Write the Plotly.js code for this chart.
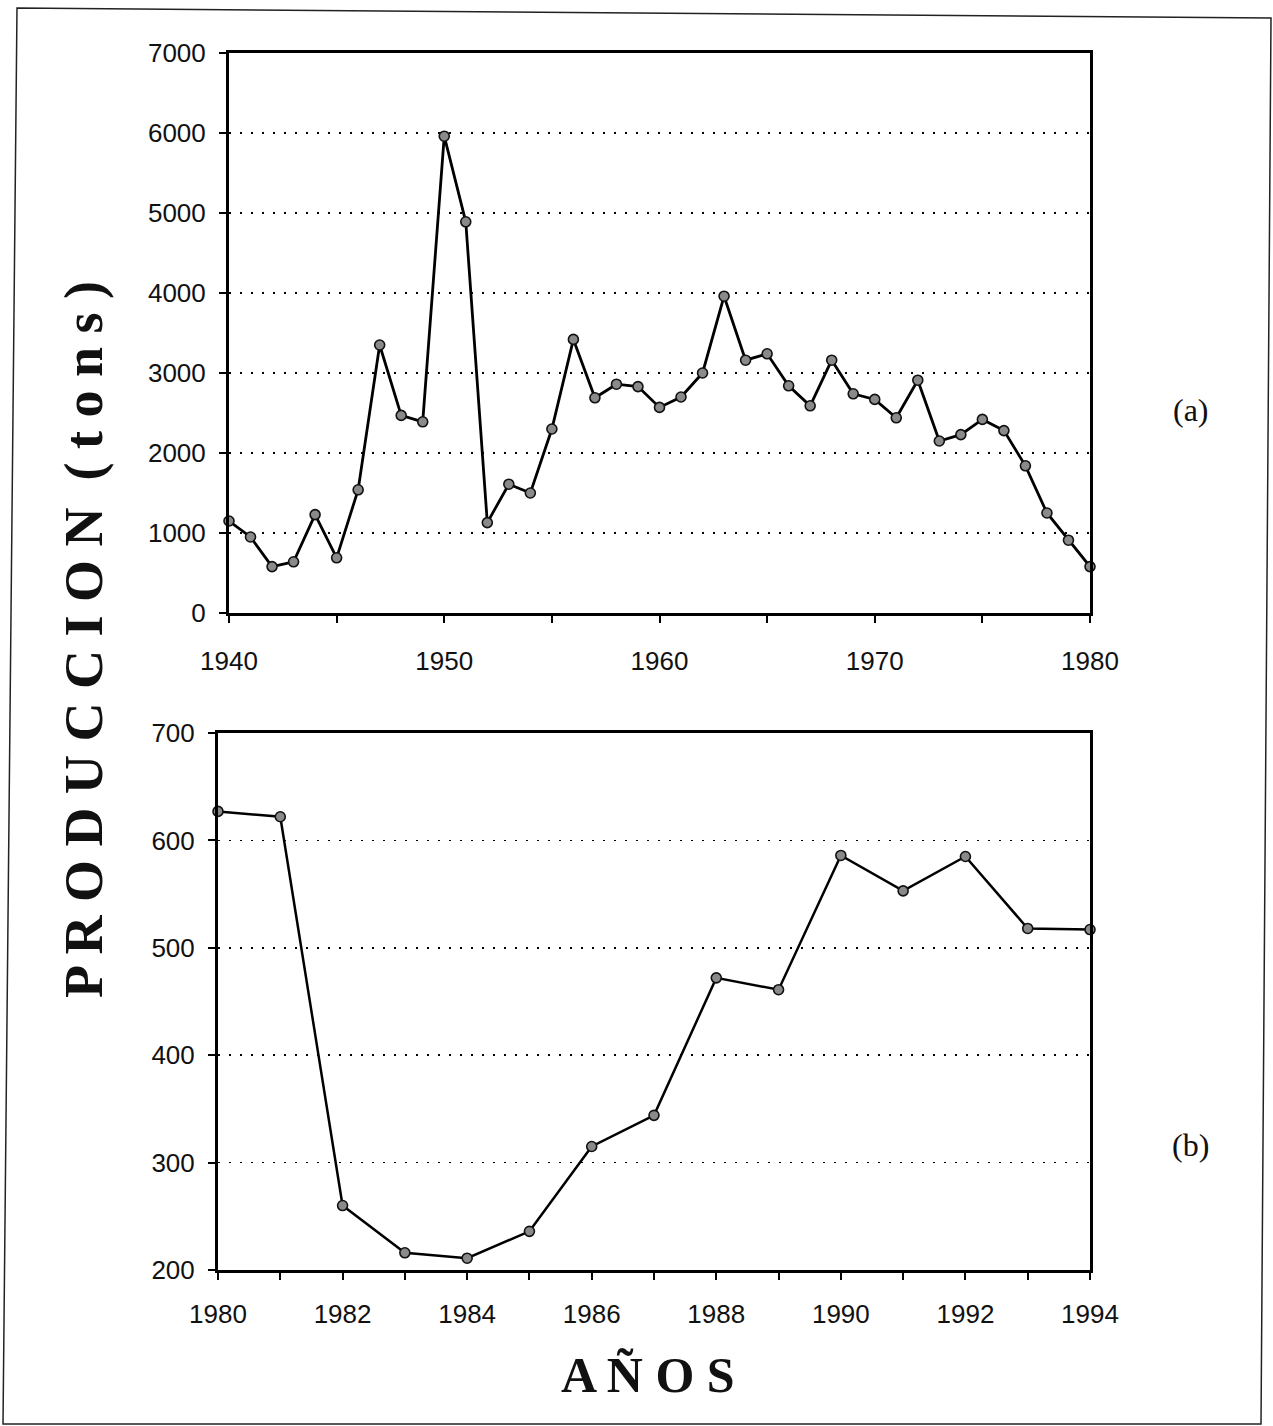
<!DOCTYPE html>
<html>
<head>
<meta charset="utf-8">
<script src="https://cdn.plot.ly/plotly-3.0.1.min.js"></script>
<style>
  html, body { margin: 0; padding: 0; background: #ffffff; }
  #chart { width: 1273px; height: 1426px; }
</style>
</head>
<body>
<div id="chart"></div>
<script>
// ---- Data ----
const yearsA = [1940, 1941, 1942, 1943, 1944, 1945, 1946, 1947, 1948, 1949,
                1950, 1951, 1952, 1953, 1954, 1955, 1956, 1957, 1958, 1959,
                1960, 1961, 1962, 1963, 1964, 1965, 1966, 1967, 1968, 1969,
                1970, 1971, 1972, 1973, 1974, 1975, 1976, 1977, 1978, 1979, 1980];
const prodA  = [1150, 950, 580, 640, 1230, 690, 1540, 3350, 2470, 2390,
                5960, 4890, 1130, 1610, 1500, 2300, 3420, 2690, 2860, 2830,
                2570, 2700, 3000, 3960, 3160, 3240, 2840, 2590, 3160, 2740,
                2670, 2440, 2910, 2150, 2230, 2420, 2280, 1840, 1250, 910, 580];

const yearsB = [1980, 1981, 1982, 1983, 1984, 1985, 1986, 1987,
                1988, 1989, 1990, 1991, 1992, 1993, 1994];
const prodB  = [627, 622, 260, 216, 211, 236, 315, 344,
                472, 461, 586, 553, 585, 518, 517];

const yTitle = "P R O D U C C I O N  ( t o n s )";
const xTitle = "A Ñ O S";
const panelA = "(a)";
const panelB = "(b)";

// ---- Styling ----
const W = 1273, H = 1426;
const px = v => v / W;
const py = v => 1 - v / H;

const tickFont = { family: "Liberation Sans, Arial, sans-serif", size: 26, color: "#111" };
const markerStyle = { size: 10, color: "#8a8a8a", line: { color: "#111", width: 1.6 } };

const commonAxis = {
  showline: true, linecolor: "#000", linewidth: 3, mirror: true,
  ticks: "outside", ticklen: 7, tickwidth: 2, tickcolor: "#000",
  tickfont: tickFont, zeroline: false, fixedrange: true
};

const traces = [
  {
    x: yearsA, y: prodA, type: "scatter", mode: "lines+markers",
    xaxis: "x", yaxis: "y", cliponaxis: false,
    line: { color: "#000", width: 2.8 }, marker: markerStyle, hoverinfo: "x+y"
  },
  {
    x: yearsB, y: prodB, type: "scatter", mode: "lines+markers",
    xaxis: "x2", yaxis: "y2", cliponaxis: false,
    line: { color: "#000", width: 2.5 }, marker: markerStyle, hoverinfo: "x+y"
  }
];

const layout = {
  width: W, height: H,
  margin: { l: 0, r: 0, t: 0, b: 0 },
  paper_bgcolor: "#ffffff", plot_bgcolor: "#ffffff",
  showlegend: false,
  xaxis: Object.assign({}, commonAxis, {
    domain: [px(229), px(1090)], anchor: "y",
    range: [1940, 1980], tickmode: "linear", tick0: 1940, dtick: 10,
    minor: { dtick: 5, ticks: "outside", ticklen: 7, tickwidth: 2, tickcolor: "#000", showgrid: false },
    showgrid: false, ticklabelstandoff: 16
  }),
  yaxis: Object.assign({}, commonAxis, {
    domain: [py(613), py(53)], anchor: "x",
    range: [0, 7000], tickmode: "linear", tick0: 0, dtick: 1000,
    showgrid: true, gridcolor: "#000", gridwidth: 1.8, griddash: "2px,9px",
    ticklabelstandoff: 8
  }),
  xaxis2: Object.assign({}, commonAxis, {
    domain: [px(218), px(1090)], anchor: "y2",
    range: [1980, 1994], tickmode: "linear", tick0: 1980, dtick: 2,
    minor: { dtick: 1, ticks: "outside", ticklen: 7, tickwidth: 2, tickcolor: "#000", showgrid: false },
    showgrid: false, ticklabelstandoff: 12
  }),
  yaxis2: Object.assign({}, commonAxis, {
    domain: [py(1270), py(733)], anchor: "x2",
    range: [200, 700], tickmode: "linear", tick0: 200, dtick: 100,
    showgrid: true, gridcolor: "#000", gridwidth: 1.8, griddash: "2px,9px",
    ticklabelstandoff: 8
  }),
  annotations: [
    {
      text: yTitle, xref: "paper", yref: "paper", x: px(84), y: py(640),
      xanchor: "center", yanchor: "middle", textangle: -90, showarrow: false,
      font: { family: "Liberation Serif, Times New Roman, serif", size: 54, weight: 900, color: "#111" }
    },
    {
      text: xTitle, xref: "paper", yref: "paper", x: px(648), y: py(1375),
      xanchor: "center", yanchor: "middle", showarrow: false,
      font: { family: "Liberation Serif, Times New Roman, serif", size: 50, weight: 900, color: "#111" }
    },
    {
      text: panelA, xref: "paper", yref: "paper", x: px(1191), y: py(410),
      xanchor: "center", yanchor: "middle", showarrow: false,
      font: { family: "Liberation Serif, Times New Roman, serif", size: 32, color: "#111" }
    },
    {
      text: panelB, xref: "paper", yref: "paper", x: px(1190), y: py(1145),
      xanchor: "center", yanchor: "middle", showarrow: false,
      font: { family: "Liberation Serif, Times New Roman, serif", size: 32, color: "#111" }
    }
  ],
  shapes: [
    {
      type: "path", xref: "paper", yref: "paper",
      path: "M " + px(17) + " " + py(8) + " L " + px(1271) + " " + py(18) +
            " L " + px(1261) + " " + py(1424) + " L " + px(3) + " " + py(1424) + " Z",
      line: { color: "#222", width: 1.5 }, fillcolor: "rgba(0,0,0,0)"
    }
  ]
};

Plotly.newPlot("chart", traces, layout, { staticPlot: true, displayModeBar: false });
</script>
</body>
</html>
